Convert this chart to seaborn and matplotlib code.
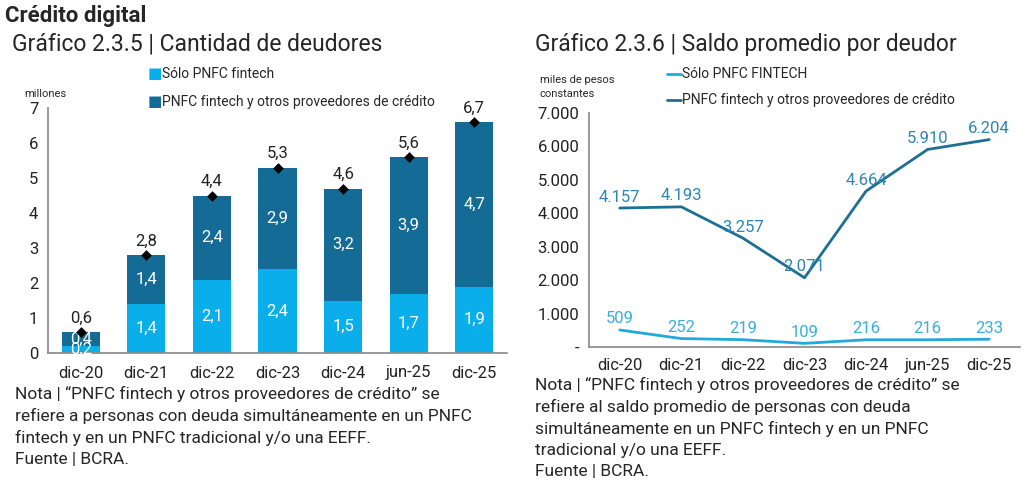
import numpy as np
import pandas as pd
import seaborn as sns
import matplotlib.pyplot as plt

# datos
periodos = ["dic-20", "dic-21", "dic-22", "dic-23", "dic-24", "jun-25", "dic-25"]
solo_fintech = [0.2, 1.4, 2.1, 2.4, 1.5, 1.7, 1.9]
fintech_otros = [0.4, 1.4, 2.4, 2.9, 3.2, 3.9, 4.7]
total_deudores = [0.6, 2.8, 4.4, 5.3, 4.6, 5.6, 6.7]

saldo_solo = [509, 252, 219, 109, 216, 216, 233]
saldo_otros = [4157, 4193, 3257, 2071, 4664, 5910, 6204]

celeste = "#0AAEEA"
azul = "#146B96"
linea_celeste = "#22A9DC"
linea_azul = "#1D6F94"
gris = "#8C8C8C"

sns.set_theme(style="white")
plt.rcParams["font.family"] = ["Roboto", "DejaVu Sans"]

df = pd.DataFrame({"periodo": periodos, "solo": solo_fintech, "otros": fintech_otros,
                   "total": total_deudores})
df["apilado"] = df["solo"] + df["otros"]

fig = plt.figure(figsize=(10.3, 4.87), dpi=100)

# ---------- grafico de barras ----------
ax1 = fig.add_axes([48 / 1030, 1 - 353 / 487, 459 / 1030, 245 / 487])
sns.barplot(data=df, x="periodo", y="apilado", color=azul, width=0.58, saturation=1,
            linewidth=0, ax=ax1)
sns.barplot(data=df, x="periodo", y="solo", color=celeste, width=0.58, saturation=1,
            linewidth=0, ax=ax1)
ax1.scatter(range(len(periodos)), df["apilado"], marker="D", s=30, color="black", zorder=5,
            linewidths=0)

for i, r in df.iterrows():
    ax1.text(i, r["solo"] / 2, f"{r['solo']:.1f}".replace(".", ","), ha="center", va="center",
             color="white", fontsize=12)
    ax1.text(i, r["solo"] + r["otros"] / 2, f"{r['otros']:.1f}".replace(".", ","), ha="center",
             va="center", color="white", fontsize=12)
    ax1.annotate(f"{r['total']:.1f}".replace(".", ","), (i, r["apilado"]), xytext=(0, 11),
                 textcoords="offset points", ha="center", va="center_baseline", fontsize=12,
                 color="#222222")

ax1.set_ylim(0, 7)
ax1.set_xlim(-0.5, 6.5)
ax1.set_yticks(range(8))
ax1.set_xlabel("")
ax1.set_ylabel("")

# ---------- grafico de lineas ----------
dl = pd.DataFrame({"periodo": periodos * 2,
                   "saldo": saldo_solo + saldo_otros,
                   "serie": ["Sólo PNFC FINTECH"] * 7 + ["PNFC fintech y otros proveedores de crédito"] * 7})
ax2 = fig.add_axes([589 / 1030, 1 - 347 / 487, 431 / 1030, 234 / 487])
sns.lineplot(data=dl, x="periodo", y="saldo", hue="serie", sort=False,
             palette=[linea_celeste, linea_azul], linewidth=2, legend=False, ax=ax2)

for i in range(len(periodos)):
    ax2.annotate(f"{saldo_otros[i]:,}".replace(",", "."), (i, saldo_otros[i]), xytext=(0, 9),
                 textcoords="offset points", ha="center", va="center_baseline", fontsize=12,
                 color="#2C86B3")
    ax2.annotate(f"{saldo_solo[i]}", (i, saldo_solo[i]), xytext=(0, 9),
                 textcoords="offset points", ha="center", va="center_baseline", fontsize=12,
                 color="#3AAEDD")

ax2.set_ylim(0, 7000)
ax2.set_xlim(-0.5, 6.5)
ax2.set_yticks(range(0, 7001, 1000))
ax2.set_yticklabels(["-"] + [f"{v:,}".replace(",", ".") for v in range(1000, 7001, 1000)])
ax2.set_xlabel("")
ax2.set_ylabel("")

for ax, pad_x in ((ax1, 9), (ax2, 8)):
    sns.despine(ax=ax)
    ax.spines["left"].set_color(gris)
    ax.spines["bottom"].set_color(gris)
    ax.set_xticks(range(7))
    ax.set_xticklabels(periodos)
    ax.tick_params(axis="both", length=0, labelsize=12, pad=7, colors="#222222")
    ax.tick_params(axis="x", pad=pad_x)
    ax.set_xticks(np.arange(0.5, 7, 1), minor=True)
    ax.tick_params(axis="x", which="minor", length=5, color=gris, direction="out")
    ax.patch.set_alpha(0)

# leyendas a mano
fig.text(148 / 1030, 1 - 74 / 487, "■", color=celeste, fontsize=11, va="center", ha="left")
fig.text(162 / 1030, 1 - 74 / 487, "Sólo PNFC fintech", fontsize=10, va="center", ha="left")
fig.text(148 / 1030, 1 - 102 / 487, "■", color=azul, fontsize=11, va="center", ha="left")
fig.text(162 / 1030, 1 - 102 / 487, "PNFC fintech y otros proveedores de crédito", fontsize=10,
         va="center", ha="left")

fig.add_artist(plt.Line2D([667 / 1030, 681 / 1030], [1 - 74 / 487] * 2, color=linea_celeste, lw=2))
fig.text(682 / 1030, 1 - 74 / 487, "Sólo PNFC FINTECH", fontsize=10, va="center", ha="left")
fig.add_artist(plt.Line2D([667 / 1030, 681 / 1030], [1 - 100 / 487] * 2, color=linea_azul, lw=2))
fig.text(682 / 1030, 1 - 100 / 487, "PNFC fintech y otros proveedores de crédito", fontsize=10,
         va="center", ha="left")

fig.text(24 / 1030, 1 - 94 / 487, "millones", fontsize=8, va="center")
fig.text(540 / 1030, 1 - 87 / 487, "miles de pesos\nconstantes", fontsize=8, va="center",
         linespacing=1.4)

# titulos
fig.text(5 / 1030, 1 - 16 / 487, "Crédito digital", fontsize=16, fontweight="bold", va="center")
fig.text(12 / 1030, 1 - 44 / 487, "Gráfico 2.3.5 | Cantidad de deudores", fontsize=16.5, va="center")
fig.text(535 / 1030, 1 - 44 / 487, "Gráfico 2.3.6 | Saldo promedio por deudor", fontsize=16.4,
         va="center")

# notas
nota1 = ("Nota | “PNFC fintech y otros proveedores de crédito” se\n"
         "refiere a personas con deuda simultáneamente en un PNFC\n"
         "fintech y en un PNFC tradicional y/o una EEFF.\n"
         "Fuente | BCRA.")
nota2 = ("Nota | “PNFC fintech y otros proveedores de crédito” se\n"
         "refiere al saldo promedio de personas con deuda\n"
         "simultáneamente en un PNFC fintech y en un PNFC\n"
         "tradicional y/o una EEFF.\n"
         "Fuente | BCRA.")
fig.text(15 / 1030, 1 - 386 / 487, nota1, fontsize=12.5, va="top", linespacing=1.47)
fig.text(535 / 1030, 1 - 377 / 487, nota2, fontsize=12.5, va="top", linespacing=1.47)

fig.savefig("out.png", dpi=100, facecolor="white")
